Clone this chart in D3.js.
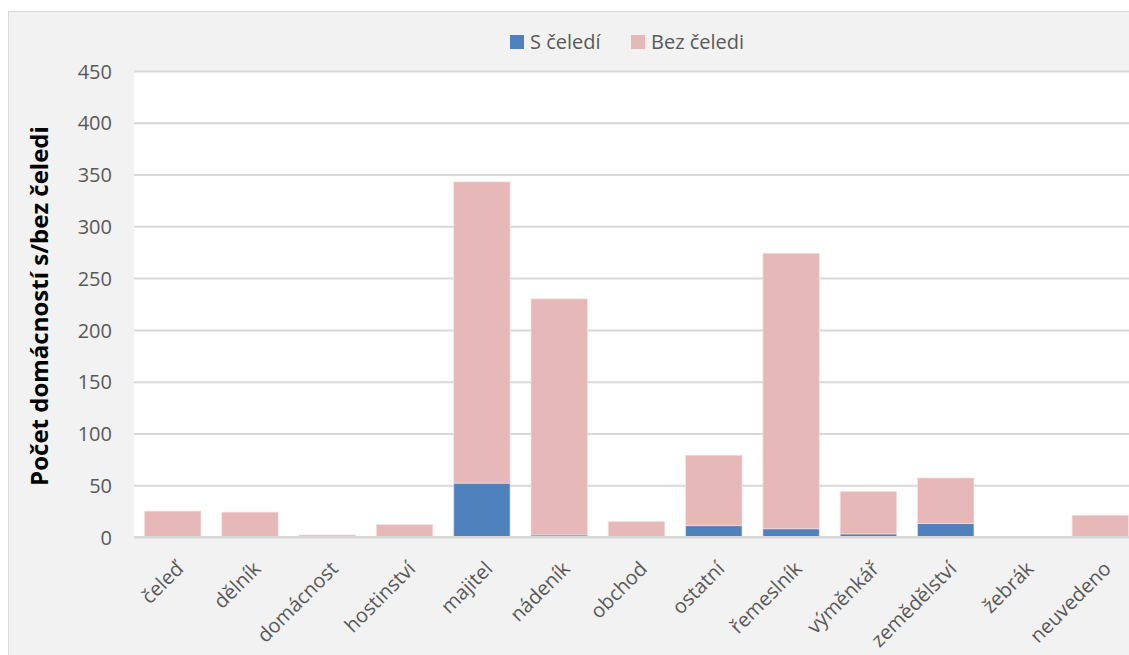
<!DOCTYPE html>
<html>
<head>
<meta charset="utf-8">
<script src="https://cdn.jsdelivr.net/npm/d3@7"></script>
<style>
  body { margin: 0; background: #fff; overflow: hidden; }
  svg { display: block; font-family: "Open Sans", "Noto Sans", sans-serif; }
</style>
</head>
<body>
<div id="chart"></div>
<script>
var categories = ["čeleď", "dělník", "domácnost", "hostinství", "majitel", "nádeník", "obchod",
                  "ostatní", "řemeslník", "výměnkář", "zemědělství", "žebrák", "neuvedeno"];
var sCeledi   = [0, 0, 0, 0, 52, 2, 0, 11, 8, 3, 13, 0, 0];
var bezCeledi = [25, 24, 2, 12, 291, 228, 15, 68, 266, 41, 44, 0, 21];
var seriesNames = ["S čeledí", "Bez čeledi"];
var seriesColors = ["#4f81bd", "#e6b8b7"];
var yTicks = [0, 50, 100, 150, 200, 250, 300, 350, 400, 450];

var width = 1129, height = 655;
var plot = { left: 134, top: 71, right: 1139, bottom: 537 };

var svg = d3.select("#chart")
  .append("svg")
    .attr("width", width)
    .attr("height", height);

// chart frame
svg.append("rect")
    .attr("x", 8.5).attr("y", 11.5)
    .attr("width", width + 10).attr("height", height)
    .style("fill", "#f2f2f2")
    .style("stroke", "#d9d9d9")
    .style("stroke-width", "1px");

svg.append("rect")
    .attr("x", plot.left).attr("y", plot.top)
    .attr("width", plot.right - plot.left).attr("height", plot.bottom - plot.top)
    .style("fill", "#ffffff");

var x = d3.scaleBand()
    .domain(categories)
    .range([plot.left, plot.right])
    .paddingInner(0.27)
    .paddingOuter(0.135);

var y = d3.scaleLinear()
    .domain([0, 450])
    .range([plot.bottom, plot.top]);

// gridlines
svg.append("g")
    .attr("transform", "translate(" + plot.left + ",0)")
    .call(d3.axisLeft(y).tickValues(yTicks).tickSize(-(plot.right - plot.left)).tickFormat(""))
    .call(function(g) {
      g.select(".domain").remove();
      g.selectAll("line").style("stroke", "#d9d9d9").style("stroke-width", "2px");
    });

// y tick labels
svg.append("g")
    .attr("transform", "translate(" + plot.left + ",0)")
    .call(d3.axisLeft(y).tickValues(yTicks).tickSize(0).tickPadding(22))
    .call(function(g) {
      g.select(".domain").remove();
      g.selectAll("text")
        .attr("dy", "0.36em")
        .style("font-size", "20px")
        .style("font-family", "'Open Sans', sans-serif")
        .style("fill", "#595959");
    });

// stacked bars
var rows = categories.map(function(c, i) {
  return { cat: c, s: sCeledi[i], b: bezCeledi[i] };
});
var stack = d3.stack().keys(["s", "b"])(rows);

svg.append("g").selectAll("g")
    .data(stack)
  .enter().append("g")
    .style("fill", function(d, i) { return seriesColors[i]; })
  .selectAll("rect")
    .data(function(d) { return d; })
  .enter().append("rect")
    .attr("x", function(d) { return x(d.data.cat); })
    .attr("width", x.bandwidth())
    .attr("y", function(d) { return y(d[1]); })
    .attr("height", function(d) { return y(d[0]) - y(d[1]); })
    .style("stroke", function(d) { return (d[1] - d[0]) > 0 ? "#f7e3e3" : "none"; })
    .style("stroke-width", "1px")
    .style("stroke-opacity", 0.6);

// baseline
svg.append("line")
    .attr("x1", plot.left).attr("x2", plot.right)
    .attr("y1", y(0)).attr("y2", y(0))
    .style("stroke", "#d9d9d9")
    .style("stroke-width", "2px");

// x labels
svg.append("g")
    .attr("transform", "translate(0," + plot.bottom + ")")
    .call(d3.axisBottom(x).tickSize(0).tickPadding(0))
    .call(function(g) {
      g.select(".domain").remove();
      g.selectAll("text")
        .attr("text-anchor", "end")
        .attr("dy", 0)
        .attr("transform", "translate(12,33) rotate(-45)")
        .style("font-size", "20px")
        .style("font-family", "'Open Sans', sans-serif")
        .style("fill", "#595959");
    });

// y axis title
svg.append("text")
    .attr("transform", "translate(48," + ((plot.top + plot.bottom) / 2 + 2) + ") rotate(-90)")
    .attr("text-anchor", "middle")
    .style("font-size", "24px")
    .style("font-weight", "bold")
    .style("fill", "#000")
    .text("Počet domácností s/bez čeledi");

// legend
var legend = svg.append("g").selectAll("g")
    .data(seriesNames)
  .enter().append("g")
    .attr("transform", function(d, i) { return "translate(" + (510 + i * 121) + ",35)"; });
legend.append("rect")
    .attr("width", 14).attr("height", 14)
    .style("fill", function(d, i) { return seriesColors[i]; });
legend.append("text")
    .attr("x", 20).attr("y", 14)
    .style("font-size", "20px")
    .style("fill", "#595959")
    .text(function(d) { return d; });
</script>
</body>
</html>
